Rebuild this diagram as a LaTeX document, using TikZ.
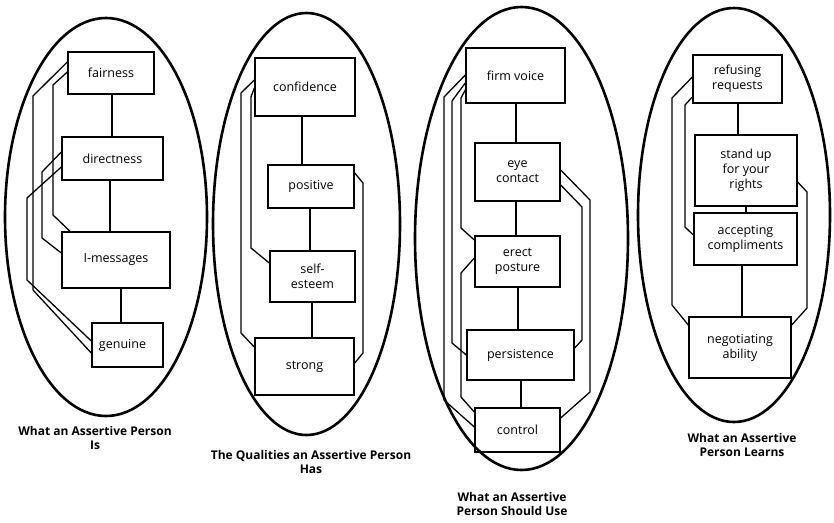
\documentclass[tikz,border=0pt]{standalone}
\usepackage{fontspec}
\setmainfont{Open Sans}
% a box given by its name, corners (x1,y1) (x2,y2) and text
\newcommand\cellbox[6]{%
  \node[box, minimum width={#4-#2}, minimum height={#5-#3}]
    (#1) at ({(#2+#4)/2},{(#3+#5)/2}) {#6};}
\begin{document}
\begin{tikzpicture}[x=1pt,y=-1pt,
  oval/.style={line width=2.6pt},
  box/.style={draw, line width=1.4pt, inner sep=0pt, align=center,
    font=\fontsize{12.5}{15}\selectfont},
  link/.style={line width=1.3pt, line join=miter},
  caption/.style={align=center, font=\bfseries\fontsize{12}{14.5}\selectfont}]
\fill[white] (0,0) rectangle (834,522);
\useasboundingbox (0,0) rectangle (834,522);

% ---------- What an Assertive Person Is ----------
\draw[oval] (106,217) ellipse [x radius=101pt, y radius=199pt];
\cellbox{fair}{68}{52}{154}{94}{fairness}
\cellbox{dir}{62}{137}{163}{180}{directness}
\cellbox{imsg}{62}{232}{170}{288}{I-messages}
\cellbox{gen}{92}{323}{163}{367}{genuine\hspace{10pt}}
\draw[link] (fair.south -| 112,0) -- (dir.north -| 112,0);
\draw[link] (dir.south -| 110,0) -- (imsg.north -| 110,0);
\draw[link] (imsg.south -| 121,0) -- (gen.north -| 121,0);
\draw[link] (fair.west |- 0,62) -- (33,96) -- (33,290) -- (gen.west |- 0,353);
\draw[link] (fair.west |- 0,72) -- (53,85) -- (53,215) -- (imsg.north -| 70,0);
\draw[link] (dir.west |- 0,152) -- (42,172) -- (42,238) -- (imsg.west |- 0,253);
\draw[link] (dir.west |- 0,167) -- (27,198) -- (27,280) -- (gen.west |- 0,341);
\node[caption] (cap1) at (95,438) {What an Assertive Person\\Is};

% ---------- The Qualities an Assertive Person Has ----------
\draw[oval] (306.5,224) ellipse [x radius=93.5pt, y radius=211pt];
\cellbox{conf}{255}{58}{355}{116}{confidence}
\cellbox{pos}{268}{165}{354}{208}{positive}
\cellbox{self}{270}{251}{355}{302}{self-\\esteem}
\cellbox{strong}{255}{338}{354}{395}{strong}
\draw[link] (conf.south -| 302,0) -- (pos.north -| 302,0);
\draw[link] (pos.south -| 310,0) -- (self.north -| 310,0);
\draw[link] (self.south -| 312,0) -- (strong.north -| 312,0);
\draw[link] (conf.west |- 0,80) -- (241,93) -- (241,333) -- (strong.west |- 0,347);
\draw[link] (conf.west |- 0,88) -- (251,97) -- (251,248) -- (self.west |- 0,263);
\draw[link] (pos.east |- 0,173) -- (363,183) -- (363,353) -- (strong.east |- 0,363);
\node[caption] (cap2) at (311,462) {The Qualities an Assertive Person\\Has};

% ---------- What an Assertive Person Should Use ----------
\draw[oval] (521.5,238.5) ellipse [x radius=106.5pt, y radius=231.5pt];
\cellbox{firm}{466}{48}{565}{103}{firm voice}
\cellbox{eye}{475}{143}{560}{201}{eye\\contact}
\cellbox{erect}{475}{236}{560}{287}{erect\\posture}
\cellbox{pers}{467}{330}{574}{380}{persistence}
\cellbox{ctrl}{475}{408}{560}{452}{control}
\draw[link] (firm.south -| 516,0) -- (eye.north -| 516,0);
\draw[link] (eye.south -| 516,0) -- (erect.north -| 516,0);
\draw[link] (erect.south -| 518,0) -- (pers.north -| 518,0);
\draw[link] (pers.south -| 521,0) -- (ctrl.north -| 521,0);
\draw[link] (firm.west |- 0,75) -- (444,97) -- (444,400) -- (ctrl.west |- 0,427);
\draw[link] (firm.west |- 0,83) -- (452,101) -- (452,343) -- (pers.west |- 0,355);
\draw[link] (firm.west |- 0,90) -- (461,98) -- (461,228) -- (erect.west |- 0,240);
\draw[link] (erect.west |- 0,258) -- (461,273) -- (461,397) -- (ctrl.west |- 0,412);
\draw[link] (eye.east |- 0,170) -- (590,200) -- (590,392) -- (ctrl.east |- 0,418);
\draw[link] (eye.east |- 0,185) -- (582,207) -- (582,340) -- (pers.east |- 0,348);
\node[caption] (cap3) at (512,504) {What an Assertive\\Person Should Use};

% ---------- What an Assertive Person Learns ----------
\draw[oval] (734,215) ellipse [x radius=96pt, y radius=207pt];
\cellbox{refuse}{693}{55}{782}{103}{refusing\\requests}
\cellbox{stand}{695}{135}{797}{206}{stand up\\for your\\rights}
\cellbox{accept}{694}{213}{797}{265}{accepting\\compliments}
\cellbox{negot}{689}{317}{791}{378}{negotiating\\ability}
\draw[link] (refuse.south -| 738,0) -- (stand.north -| 738,0);
\draw[link] (stand.south -| 746,0) -- (accept.north -| 746,0);
\draw[link] (accept.south -| 742,0) -- (negot.north -| 742,0);
\draw[link] (refuse.west |- 0,77) -- (672,98) -- (672,305) -- (negot.west |- 0,325);
\draw[link] (refuse.west |- 0,97) -- (685,105) -- (685,227) -- (accept.west |- 0,235);
\draw[link] (stand.east |- 0,182) -- (807,192) -- (807,308) -- (negot.east |- 0,325);
\node[caption] (cap4) at (742,445) {What an Assertive\\Person Learns};
\end{tikzpicture}
\end{document}
